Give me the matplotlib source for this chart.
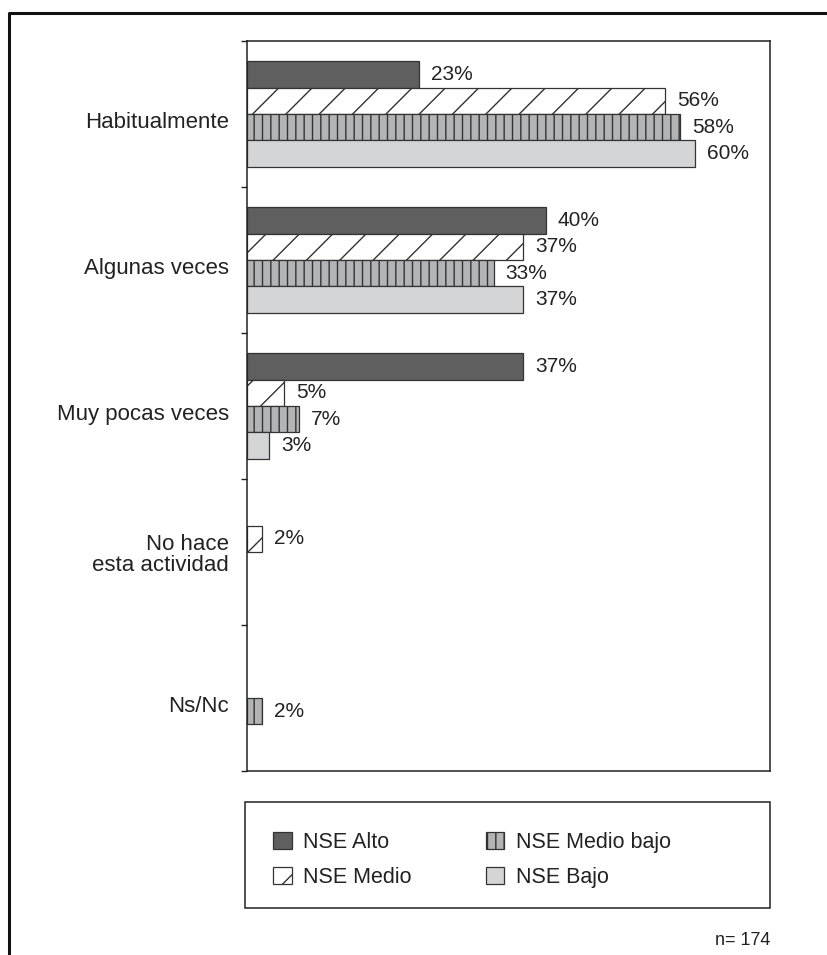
import numpy as np
import matplotlib
matplotlib.use("Agg")
import matplotlib.pyplot as plt
import matplotlib.transforms as mtransforms
from matplotlib.lines import Line2D
from matplotlib.patches import Rectangle

plt.rcParams['font.family'] = ['Liberation Sans', 'DejaVu Sans']
plt.rcParams['hatch.linewidth'] = 1.0

categorias = ["Habitualmente", "Algunas veces", "Muy pocas veces",
              "No hace\nesta actividad", "Ns/Nc"]
series = ["NSE Alto", "NSE Medio", "NSE Medio bajo", "NSE Bajo"]
nse_alto = [23, 40, 37, 0, 0]
nse_medio = [56, 37, 5, 2, 0]
nse_medio_bajo = [58, 33, 7, 0, 2]
nse_bajo = [60, 37, 3, 0, 0]
n_total = 174

valores = [nse_alto, nse_medio, nse_medio_bajo, nse_bajo]
colores = ["#5f5f5f", "#ffffff", "#b3b4b6", "#d4d5d7"]
tramas = [None, "/", "||", None]
borde = "#333333"
texto = "#222222"

fig = plt.figure(figsize=(8.27, 9.55), dpi=100)
W, H = 827, 955
ax = fig.add_axes([247 / W, 1 - 771 / H, (770 - 247) / W, (771 - 41) / H])

alto = 0.18
centros = np.arange(len(categorias)) + 0.5
for i, (vals, c, h, nombre) in enumerate(zip(valores, colores, tramas, series)):
    vals = np.array(vals, dtype=float)
    y = centros + (i - 1.5) * alto
    m = vals > 0
    ax.barh(y[m], vals[m], height=alto, color=c, edgecolor=borde,
            linewidth=0.9, hatch=h, label=nombre)
    for yy, v in zip(y[m], vals[m]):
        ax.annotate(f"{v:.0f}%", (v, yy), xytext=(8.5, 0), textcoords="offset points",
                    va="center", ha="left", fontsize=15, color=texto)

ax.set_xlim(0, 70)
ax.set_ylim(len(categorias), 0)
ax.set_xticks([])
ax.set_yticks(np.arange(len(categorias) + 1))
ax.set_yticklabels([])
ax.set_yticks(centros, minor=True)
ax.set_yticklabels(categorias, minor=True, fontsize=16, color=texto, linespacing=1.05)
ax.tick_params(axis="y", which="major", length=4.5, width=1.0, color=texto)
ax.tick_params(axis="y", which="minor", length=0, pad=13)
# etiquetas un poco más abajo del centro del grupo
bajar = mtransforms.ScaledTranslation(0, -4 / 72, fig.dpi_scale_trans)
for lab in ax.get_yticklabels(minor=True):
    if "\n" not in lab.get_text():
        lab.set_transform(lab.get_transform() + bajar)
for s in ax.spines.values():
    s.set_linewidth(1.1)
    s.set_color(texto)

# caja de la leyenda
fig.add_artist(Rectangle((245 / W, 1 - 908 / H), (770 - 245) / W, (908 - 802) / H,
                         transform=fig.transFigure, facecolor="none",
                         edgecolor=texto, linewidth=1.1))
handles, labels = ax.get_legend_handles_labels()
fig.legend(handles, labels, ncol=2, frameon=False, loc="upper left",
           bbox_to_anchor=(256 / W, 1 - 815 / H), fontsize=15.5,
           handlelength=0.85, handleheight=0.85, handletextpad=0.55,
           columnspacing=3.45, labelspacing=0.62, borderpad=0.3,
           labelcolor=texto)

fig.text(770 / W, 1 - 940 / H, f"n= {n_total}", ha="right", va="center",
         fontsize=13, color=texto)

# marco exterior
fig.add_artist(Line2D([8.5 / W, 8.5 / W, 1.05], [-0.05, 1 - 13 / H, 1 - 13 / H],
                      transform=fig.transFigure, color="#111111", linewidth=2.2))

fig.savefig("out.png", dpi=100, facecolor="white")
